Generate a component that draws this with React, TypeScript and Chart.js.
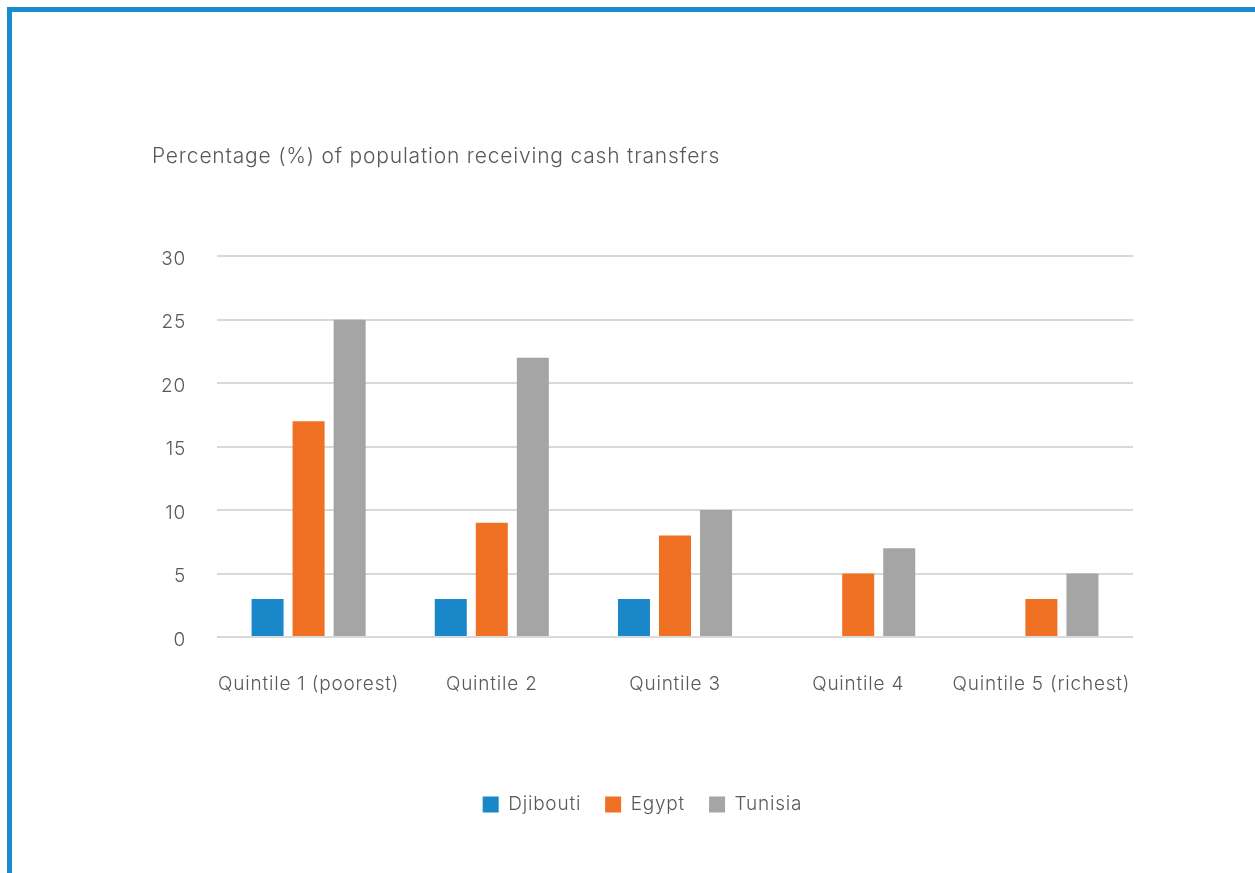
import React, { useEffect, useRef } from "react";
import { Chart, registerables } from "chart.js";

Chart.register(...registerables);

const categories = ["Quintile 1 (poorest)", "Quintile 2", "Quintile 3", "Quintile 4", "Quintile 5 (richest)"];
const djibouti = [3, 3, 3, 0, 0];
const egypt = [17, 9, 8, 5, 3];
const tunisia = [25, 22, 10, 7, 5];
const yTicks = [0, 5, 10, 15, 20, 25, 30];
const titleText = "Percentage (%) of population receiving cash transfers";

const FONT = "Inter, 'Open Sans', 'Helvetica Neue', Arial, sans-serif";
const TEXT = "#595959";

const spacingPlugin = {
  id: "letterSpacing",
  beforeUpdate(chart: any) {
    chart.ctx.letterSpacing = "0.8px";
  },
  beforeDraw(chart: any) {
    chart.ctx.letterSpacing = "0.8px";
  },
};

export default function App() {
  const ref = useRef<HTMLCanvasElement>(null);
  useEffect(() => {
    document.body.style.margin = "0";
    const ctx = ref.current!;
    const chart = new Chart(ctx, {
      type: "bar",
      plugins: [spacingPlugin],
      data: {
        labels: categories,
        datasets: [
          { label: "Djibouti", data: djibouti, backgroundColor: "#1a87c9" },
          { label: "Egypt", data: egypt, backgroundColor: "#f07024" },
          { label: "Tunisia", data: tunisia, backgroundColor: "#a5a5a5" },
        ],
      },
      options: {
        animation: false,
        responsive: false,
        maintainAspectRatio: false,
        layout: { padding: { left: 152, right: 122, top: 0, bottom: 49 } },
        datasets: { bar: { categoryPercentage: 0.672, barPercentage: 0.78 } },
        plugins: {
          title: {
            display: true,
            text: titleText,
            align: "start",
            color: TEXT,
            font: { family: FONT, size: 21, weight: "300" },
            padding: { top: 144, bottom: 87 },
          },
          legend: {
            position: "bottom",
            labels: {
              color: TEXT,
              font: { family: FONT, size: 19, weight: "300" },
              boxWidth: 16,
              boxHeight: 16,
              padding: 24,
            },
          },
          tooltip: { enabled: false },
        },
        scales: {
          x: {
            grid: { display: false, drawTicks: false },
            border: { display: false },
            ticks: {
              color: TEXT,
              font: { family: FONT, size: 19, weight: "300" },
              padding: 36,
              maxRotation: 0,
              autoSkip: false,
            },
            afterFit: (s: any) => { s.height = 134; },
          },
          y: {
            min: 0,
            max: 30,
            afterBuildTicks: (s: any) => { s.ticks = yTicks.map((v) => ({ value: v })); },
            grid: { color: "#d9d9d9", lineWidth: 2, drawTicks: false },
            border: { display: false },
            ticks: { color: TEXT, font: { family: FONT, size: 19, weight: "300" }, padding: 31, labelOffset: 3 },
            afterFit: (s: any) => { s.width = 65; },
          },
        },
      },
    });
    return () => chart.destroy();
  }, []);
  return (
    <div style={{ position: "fixed", left: 0, top: 0, width: 1255, height: 873, background: "#fff" }}>
      <div
        style={{
          position: "absolute",
          left: 7,
          top: 7,
          right: 0,
          bottom: 0,
          borderTop: "5px solid #1b8bcd",
          borderLeft: "5px solid #1b8bcd",
        }}
      />
      <canvas ref={ref} width={1255} height={873} style={{ position: "absolute", left: 0, top: 0 }} />
    </div>
  );
}
